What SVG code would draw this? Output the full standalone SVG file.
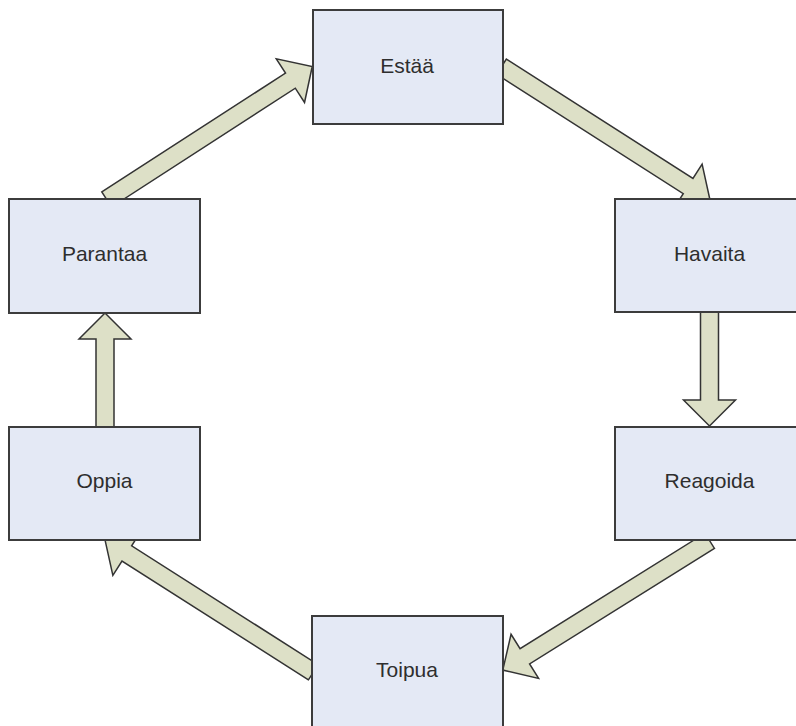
<svg xmlns="http://www.w3.org/2000/svg" width="796" height="726" viewBox="0 0 796 726">
<style>
.box{fill:#e4e9f5;stroke:#3c3c3c;stroke-width:2}
.lbl{font-family:"Liberation Sans",Arial,sans-serif;font-size:21px;fill:#2e2e2e;text-anchor:middle}
.arr{fill:#dde0c7;stroke:#333;stroke-width:1.5;stroke-linejoin:miter}
</style>
<rect width="796" height="726" fill="#fff"/>
<g id="connectors">
<polygon class="arr" transform="translate(106.7,199.5) rotate(-32.9)" points="0,-9 218.8,-9 218.8,-26 244.8,0 218.8,26 218.8,9 0,9"/>
<polygon class="arr" transform="translate(501.5,66.7) rotate(32.6)" points="0,-9 221.5,-9 221.5,-26 247.5,0 221.5,26 221.5,9 0,9"/>
<polygon class="arr" transform="translate(709.5,312) rotate(90)" points="0,-9 88,-9 88,-26 114,0 88,26 88,9 0,9"/>
<polygon class="arr" transform="translate(709.7,540.8) rotate(148)" points="0,-9 218,-9 218,-26 244,0 218,26 218,9 0,9"/>
<polygon class="arr" transform="translate(313.3,672.2) rotate(-147.5)" points="0,-9 221.1,-9 221.1,-26 247.1,0 221.1,26 221.1,9 0,9"/>
<polygon class="arr" transform="translate(105,427) rotate(-90)" points="0,-9 88,-9 88,-26 114,0 88,26 88,9 0,9"/>
</g>
<g id="estaa"><rect class="box" x="313" y="10" width="190" height="114"/><text class="lbl" x="407" y="73">Estää</text></g>
<g id="havaita"><rect class="box" x="615" y="199" width="191" height="113"/><text class="lbl" x="709.5" y="261">Havaita</text></g>
<g id="reagoida"><rect class="box" x="615" y="427" width="191" height="113"/><text class="lbl" x="709.5" y="488">Reagoida</text></g>
<g id="toipua"><rect class="box" x="312" y="616" width="191" height="113"/><text class="lbl" x="407" y="677">Toipua</text></g>
<g id="oppia"><rect class="box" x="9" y="427" width="191" height="113"/><text class="lbl" x="104.5" y="488">Oppia</text></g>
<g id="parantaa"><rect class="box" x="9" y="199" width="191" height="114"/><text class="lbl" x="104.5" y="261">Parantaa</text></g>
</svg>
